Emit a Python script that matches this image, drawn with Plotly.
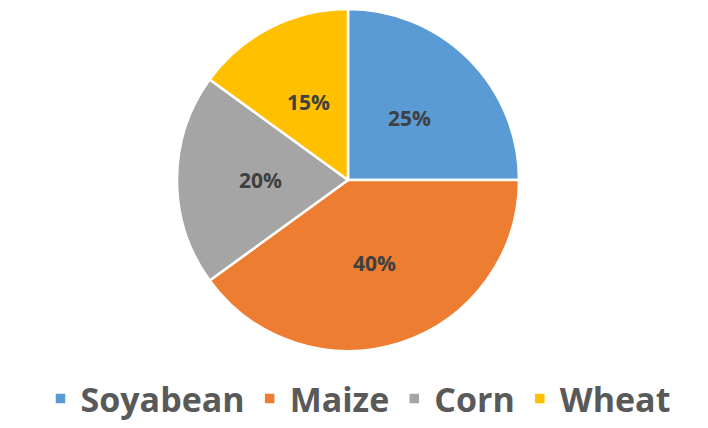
"""Pie chart of crop shares."""

import math

import plotly.graph_objects as go

crops = ["Soyabean", "Maize", "Corn", "Wheat"]
shares = [25, 40, 20, 15]
colors = ["#5B9BD5", "#ED7D31", "#A5A5A5", "#FFC000"]

# page body adds 8px margin, so lay out on a 700x420 canvas
W, H = 700, 420
CX, CY, R = 340, 172, 171

fig = go.Figure(go.Pie(
    labels=crops,
    values=shares,
    sort=False,
    direction="clockwise",
    rotation=0,
    marker=dict(colors=colors, line=dict(color="white", width=2.5)),
    textinfo="none",
    domain=dict(x=[(CX - R) / W, (CX + R) / W], y=[1 - (CY + R) / H, 1 - (CY - R) / H]),
    hoverinfo="label+percent",
))

# percent labels along each slice bisector, about half way out (Excel style)
total = sum(shares)
start = 0.0
for val in shares:
    mid = (start + val / 2) / total * 2 * math.pi
    start += val
    d = 0.51 * R
    fig.add_annotation(
        x=(CX + d * math.sin(mid)) / W, y=1 - (CY - d * math.cos(mid)) / H,
        xref="paper", yref="paper", xanchor="center", yanchor="middle",
        showarrow=False,
        text=f"{round(val / total * 100)}%",
        font=dict(family="Open Sans", size=21, color="#404040", weight="bold"),
    )

fig.update_layout(
    width=W, height=H,
    margin=dict(l=0, r=0, t=0, b=0, autoexpand=False),
    paper_bgcolor="white",
    showlegend=True,
    legend=dict(
        orientation="h", x=0.5, xanchor="center", y=0, yanchor="bottom",
        font=dict(family="Open Sans", size=34, color="#595959", weight="bold"),
        itemwidth=30,
    ),
)

fig.write_html("out.html")
